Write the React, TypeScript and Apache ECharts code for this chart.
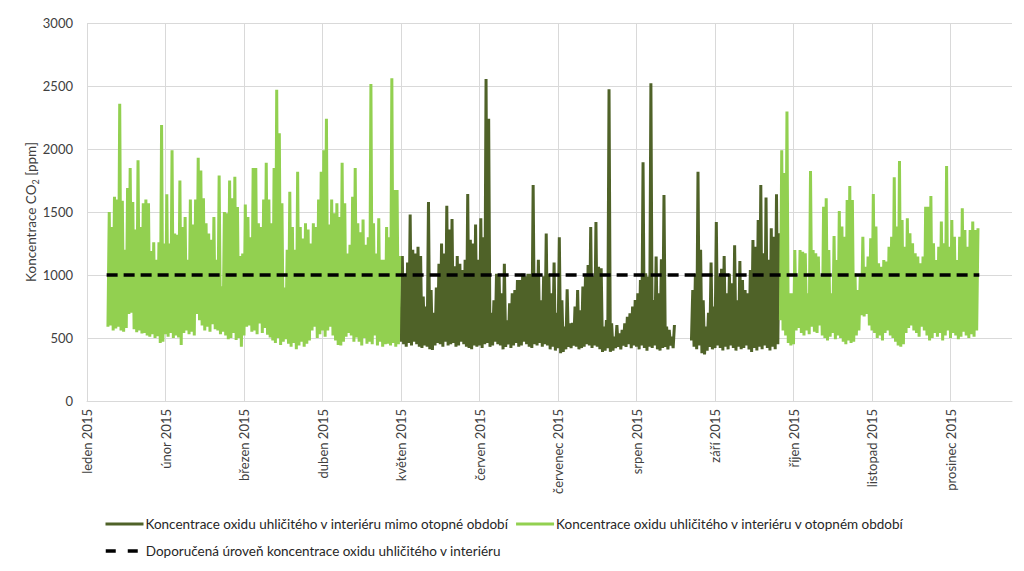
import React, { useEffect, useRef } from "react";
import * as echarts from "echarts";

// ---------- labels ----------
const monthLabels = [
  "leden 2015", "únor 2015", "březen 2015", "duben 2015", "květen 2015", "červen 2015",
  "červenec 2015", "srpen 2015", "září 2015", "říjen 2015", "listopad 2015", "prosinec 2015",
];
const yTicks = [0, 500, 1000, 1500, 2000, 2500, 3000];
const nameOutside = "Koncentrace oxidu uhličitého v interiéru mimo otopné období";
const nameHeating = "Koncentrace oxidu uhličitého v interiéru v otopném období";
const nameLevel = "Doporučená úroveň koncentrace oxidu uhličitého v interiéru";

// axis: 2 samples per day (night low, day peak), 30-day month slots
const samplesPerDay = 2;
const daysPerMonth = 30;
const axisDays = 353.5;

// ---------- heating season, Jan–Apr (days 8..119): daily lows / peaks ----------
const heatingStartA = 8;
const heatingLowA = [
  590, 600, 560, 575, 590, 560, 550, 580, 690, 700,
  570, 545, 560, 535, 540, 520, 510, 530, 500, 515,
  460, 470, 530, 510, 540, 500, 520, 505, 445, 540,
  560, 530, 550, 520, 690, 640, 600, 560, 590, 550,
  610, 570, 560, 530, 550, 520, 490, 500, 540, 485,
  500, 430, 520, 590, 600, 550, 560, 530, 615, 540,
  580, 525, 505, 480, 460, 500, 445, 470, 490, 455,
  430, 460, 410, 440, 470, 430, 455, 480, 560, 590,
  500, 530, 560, 510, 560, 590, 520, 480, 445, 440,
  470, 510, 540, 520, 470, 505, 470, 440, 500, 455,
  470, 450, 520, 440, 470, 430, 450, 455, 440, 460,
  430, 450,
];
const heatingHighA = [
  1500, 1380, 1620, 1600, 2360, 1590, 1200, 1690, 1850, 1580,
  1360, 1910, 1380, 1570, 1600, 1570, 1190, 1260, 1120, 1260,
  2190, 1250, 1640, 1250, 1990, 1330, 1320, 1750, 1380, 1460,
  1120, 1600, 1400, 1600, 1930, 1830, 1610, 1410, 1330, 1280,
  1460, 1120, 1790, 910, 1500, 1490, 1750, 1610, 1780, 1540,
  1150, 1170, 1560, 1460, 1300, 1850, 1850, 1410, 1380, 1600,
  1890, 1600, 1410, 1850, 2470, 2125, 1570, 900, 1200, 1660,
  1380, 1200, 1820, 1380, 1290, 1410, 1360, 1250, 1410, 1380,
  1600, 1820, 1990, 2240, 1400, 1600, 1490, 1570, 1460, 1890,
  1570, 1170, 1240, 1620, 1850, 1410, 1340, 1440, 1240, 1300,
  2516, 1410, 1170, 1450, 1120, 1120, 1380, 1300, 2561, 1675,
  1675, 1150,
];

// ---------- outside heating season, May–Aug (days 120..224) ----------
const outsideStartA = 120;
const outsideLowA = [
  470, 450, 430, 460, 440, 470, 450, 430, 420, 440,
  430, 410, 405, 440, 460, 450, 430, 470, 440, 450,
  460, 430, 440, 470, 450, 430, 420, 410, 440, 430,
  440, 420, 450, 460, 430, 440, 470, 450, 440, 410,
  430, 450, 420, 440, 460, 430, 440, 470, 450, 430,
  420, 450, 440, 460, 430, 450, 440, 410, 430, 400,
  420, 380, 390, 410, 430, 420, 440, 430, 410, 420,
  430, 450, 440, 420, 440, 430, 410, 390, 400, 420,
  390, 400, 420, 430, 410, 440, 430, 450, 420, 440,
  430, 410, 440, 420, 400, 430, 420, 440, 410, 400,
  420, 430, 410, 440, 420,
];
const outsideHighA = [
  1150, 990, 1100, 1480, 1200, 1170, 1225, 1150, 830, 750,
  1580, 880, 700, 900, 1090, 1250, 1170, 1550, 1360, 1445,
  1070, 1150, 1090, 1040, 1120, 1643, 1280, 1250, 1400, 1120,
  1450, 1300, 2556, 2240, 700, 800, 1010, 990, 855, 1090,
  640, 775, 855, 880, 960, 960, 1010, 990, 1010, 1010,
  1715, 1010, 1120, 800, 990, 1330, 1010, 855, 1100, 700,
  1300, 800, 590, 886, 617, 620, 750, 880, 720, 908,
  990, 1080, 1380, 990, 1420, 1066, 1053, 590, 643, 2474,
  617, 511, 603, 537, 564, 617, 669, 696, 749, 802,
  855, 960, 1895, 1013, 987, 2522, 802, 1146, 855, 1125,
  1635, 590, 564, 511, 603,
];

// ---------- outside heating season, Aug–Sep (days 231..264) ----------
const outsideStartB = 231;
const outsideLowB = [
  480, 430, 410, 440, 380, 370, 400, 430, 410, 420,
  440, 420, 400, 430, 410, 440, 420, 400, 430, 410,
  420, 440, 410, 390, 420, 400, 430, 410, 440, 420,
  400, 430, 410, 450,
];
const outsideHighB = [
  880, 1010, 1820, 1200, 800, 590, 700, 1100, 750, 1420,
  990, 1050, 1150, 855, 1010, 934, 1236, 800, 1110, 960,
  880, 855, 1040, 1278, 1225, 1437, 1715, 1172, 1614, 1120,
  1371, 1304, 1640, 1331,
];

// ---------- heating season, Oct–Dec (days 265..340) ----------
const heatingStartB = 265;
const heatingLowB = [
  640, 560, 520, 460, 440, 450, 560, 580, 540, 520,
  560, 530, 590, 550, 540, 600, 520, 500, 480, 510,
  540, 490, 520, 500, 470, 450, 480, 460, 470, 520,
  560, 680, 670, 690, 600, 560, 540, 500, 520, 480,
  540, 560, 520, 500, 470, 440, 430, 450, 540, 580,
  600, 560, 540, 510, 590, 560, 520, 480, 500, 540,
  510, 540, 480, 520, 560, 500, 540, 520, 490, 510,
  550, 520, 500, 530, 510, 560,
];
const heatingHighB = [
  1990, 1810, 2297, 855, 855, 1199, 987, 1199, 1185, 1172,
  855, 1826, 1199, 1172, 1146, 987, 1542, 1609, 1199, 855,
  1310, 1119, 1508, 1384, 1304, 1595, 1707, 1595, 1013, 881,
  987, 1304, 1066, 1146, 1291, 1643, 1384, 1093, 1066, 1119,
  1106, 1225, 1304, 1775, 1384, 1905, 1437, 1225, 1450, 1331,
  1251, 1172, 1146, 1093, 1146, 1542, 1542, 1627, 1251, 1119,
  1225, 1424, 1251, 1865, 1225, 1437, 1304, 1119, 1304, 1529,
  1357, 1225, 1357, 1424, 1357, 1371,
];

// ---------- recommended level ----------
const recommendedLevel = 1000;
const recommendedFromDay = 7.5;
const recommendedToDay = 341;

// ---------- build category-axis arrays ----------
const slotCount = Math.round(axisDays * samplesPerDay) + 1;
const categories = Array.from({ length: slotCount }, (_, i) => String(i));

type Segment = { start: number; lows: number[]; highs: number[] };

function buildSeries(segments: Segment[]): (number | null)[] {
  const arr: (number | null)[] = new Array(slotCount).fill(null);
  segments.forEach((s) => {
    s.lows.forEach((lo, i) => {
      const idx = (s.start + i) * samplesPerDay;
      arr[idx] = lo;
      arr[idx + 1] = s.highs[i];
    });
  });
  return arr;
}

const heatingData = buildSeries([
  { start: heatingStartA, lows: heatingLowA, highs: heatingHighA },
  { start: heatingStartB, lows: heatingLowB, highs: heatingHighB },
]);
const outsideData = buildSeries([
  { start: outsideStartA, lows: outsideLowA, highs: outsideHighA },
  { start: outsideStartB, lows: outsideLowB, highs: outsideHighB },
]);
const levelData: (number | null)[] = new Array(slotCount).fill(null);
levelData[Math.round(recommendedFromDay * samplesPerDay)] = recommendedLevel;
levelData[Math.round(recommendedToDay * samplesPerDay)] = recommendedLevel;

const monthSlot = daysPerMonth * samplesPerDay;

const FONT = "Lato, 'Open Sans', sans-serif";
const TEXT = "#404040";
const GRID = "#d9d9d9";
const DARK = "#4f6228";
const LIGHT = "#92d050";

const legendText = { fontSize: 13.5, color: "#262626", fontFamily: FONT, padding: [0, 0, 0, -3] };
const hiddenSymbol = { color: "rgba(0,0,0,0)", borderWidth: 0, opacity: 0 };

export default function App() {
  const ref = useRef<HTMLDivElement>(null);
  useEffect(() => {
    if (!ref.current) return;
    const chart = echarts.init(ref.current, null, { renderer: "svg" });
    chart.setOption({
      animation: false,
      backgroundColor: "#ffffff",
      textStyle: { fontFamily: FONT },
      grid: { left: 87, right: 12, top: 23, bottom: 170, containLabel: false },
      xAxis: {
        type: "category",
        data: categories,
        boundaryGap: false,
        axisLine: { show: true, lineStyle: { color: GRID, width: 1 } },
        axisTick: { show: false },
        axisLabel: {
          interval: monthSlot - 1,
          rotate: 90,
          margin: 8,
          fontSize: 13,
          color: TEXT,
          fontFamily: FONT,
          formatter: (_v: string, idx: number) =>
            idx % monthSlot === 0 ? monthLabels[idx / monthSlot] ?? "" : "",
        },
        splitLine: { show: true, interval: monthSlot - 1, lineStyle: { color: GRID, width: 1 } },
      },
      yAxis: {
        type: "value",
        min: yTicks[0],
        max: yTicks[yTicks.length - 1],
        interval: yTicks[1] - yTicks[0],
        axisLine: { show: false },
        axisTick: { show: false },
        axisLabel: {
          fontSize: 13,
          color: TEXT,
          margin: 14,
          fontFamily: FONT,
          formatter: (v: number) => String(v),
        },
        splitLine: { show: true, lineStyle: { color: GRID, width: 1 } },
        name: "Koncentrace CO{sub|2} [ppm]",
        nameLocation: "middle",
        nameGap: 47,
        nameMoveOverlap: false,
        nameTextStyle: {
          fontSize: 13.5,
          color: TEXT,
          fontFamily: FONT,
          lineHeight: 18,
          rich: {
            sub: { fontSize: 9, color: TEXT, fontFamily: FONT, verticalAlign: "bottom", lineHeight: 18 },
          },
        },
      },
      legend: [
        {
          left: 104,
          top: 517,
          itemWidth: 38,
          itemHeight: 14,
          itemGap: 6,
          padding: 0,
          data: [nameOutside, nameHeating],
          lineStyle: { width: 3 },
          itemStyle: hiddenSymbol,
          textStyle: legendText,
        },
        {
          left: 104,
          top: 544,
          itemWidth: 38,
          itemHeight: 14,
          padding: 0,
          data: [nameLevel],
          lineStyle: { width: 3.5, type: [10, 12] },
          itemStyle: hiddenSymbol,
          textStyle: legendText,
        },
      ],
      series: [
        {
          name: nameOutside,
          type: "line",
          data: outsideData,
          symbol: "none",
          connectNulls: false,
          lineStyle: { color: DARK, width: 3 },
          itemStyle: { color: DARK },
          z: 2,
        },
        {
          name: nameHeating,
          type: "line",
          data: heatingData,
          symbol: "none",
          connectNulls: false,
          lineStyle: { color: LIGHT, width: 3 },
          itemStyle: { color: LIGHT },
          z: 2,
        },
        {
          name: nameLevel,
          type: "line",
          data: levelData,
          symbol: "none",
          connectNulls: true,
          lineStyle: { color: "#000000", width: 3.5, type: [11, 6] },
          itemStyle: { color: "#000000" },
          z: 3,
        },
      ],
    });
    return () => chart.dispose();
  }, []);
  return (
    <div
      ref={ref}
      style={{ position: "absolute", left: 0, top: 0, width: 1024, height: 571 }}
    />
  );
}
